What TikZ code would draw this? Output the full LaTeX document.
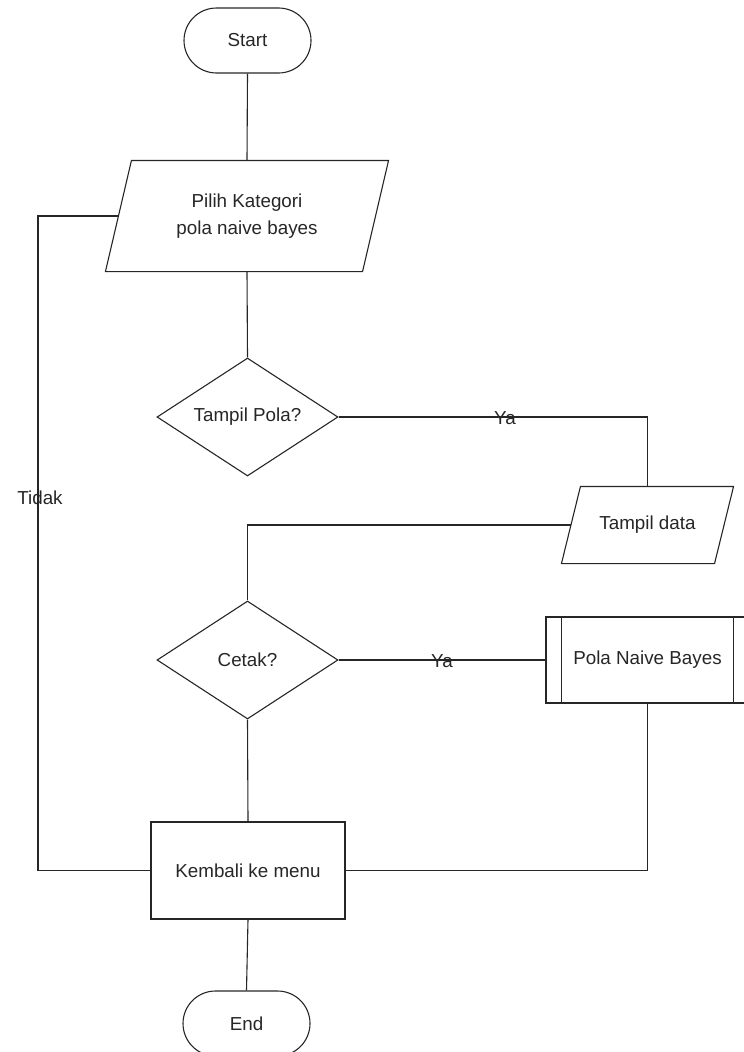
\documentclass[tikz,border=0pt]{standalone}
\usepackage{fontspec}
\setmainfont{Liberation Sans}
\usetikzlibrary{shapes.geometric}

\begin{document}
\begin{tikzpicture}[x=1pt, y=-1pt, line width=1.1pt, draw=black!85,
  every node/.style={font=\fontsize{18.8}{22}\selectfont, text=black!85},
  terminal/.style={draw, rectangle, rounded corners=32.5pt, minimum width=127pt,
    minimum height=65pt, inner sep=0pt},
  iobox/.style={rectangle, inner sep=0pt, align=center},
  decision/.style={draw, diamond, aspect=1.52, inner sep=0pt,
    minimum width=181pt, minimum height=118pt},
  process/.style={draw, rectangle, inner sep=0pt},
  lbl/.style={inner sep=0pt}]

  \useasboundingbox (0,0) rectangle (744,1052);

  % main column
  \node[terminal] (start) at (247.5,40.5) {Start};
  \node[iobox, minimum width=256pt, minimum height=110pt,
        font=\fontsize{18.8}{27}\selectfont] (pilih) at (247,216)
    {Pilih Kategori\\pola naive bayes};
  \draw ([xshift=13pt]pilih.north west) -- ([xshift=13pt]pilih.north east)
     -- ([xshift=-13pt]pilih.south east) -- ([xshift=-13pt]pilih.south west) -- cycle;
  \node[decision] (tpola) at (247.5,417) {Tampil Pola?};
  \node[iobox, minimum width=152pt, minimum height=76pt] (tdata) at (647.5,525) {Tampil data};
  \draw ([xshift=9.5pt]tdata.north west) -- ([xshift=9.5pt]tdata.north east)
     -- ([xshift=-9.5pt]tdata.south east) -- ([xshift=-9.5pt]tdata.south west) -- cycle;
  \node[decision] (cetak) at (247.5,660) {Cetak?};
  \node[process, minimum width=203pt, minimum height=86pt] (pola) at (647.5,660) {Pola Naive Bayes};
  \draw ([xshift=16pt]pola.north west) -- ([xshift=16pt]pola.south west);
  \draw ([xshift=-16pt]pola.north east) -- ([xshift=-16pt]pola.south east);
  \node[process, minimum width=194pt, minimum height=97pt] (kembali) at (248,870.5) {Kembali ke menu};
  \node[terminal] (end) at (246.5,1023.5) {End};

  \coordinate (loop) at (38,870.5);

  % connectors
  \draw (start.south) -- (pilih.north);
  \draw (pilih.south) -- (tpola.north);
  \draw (tpola.east) -| (tdata.north);
  \draw (tdata.west) -| (cetak.north);
  \draw (cetak.east) -- (pola.west);
  \draw (cetak.south) -- (kembali.north);
  \draw (pola.south) |- (kembali.east);
  \draw (pilih.west) -| (loop) -- (kembali.west);
  \draw (kembali.south) -- (end.north);

  % branch labels
  \node[lbl] (ya1) at (505,418) {Ya};
  \node[lbl] (ya2) at (442,661) {Ya};
  \node[lbl] (tidak) at (40,498) {Tidak};
\end{tikzpicture}
\end{document}
